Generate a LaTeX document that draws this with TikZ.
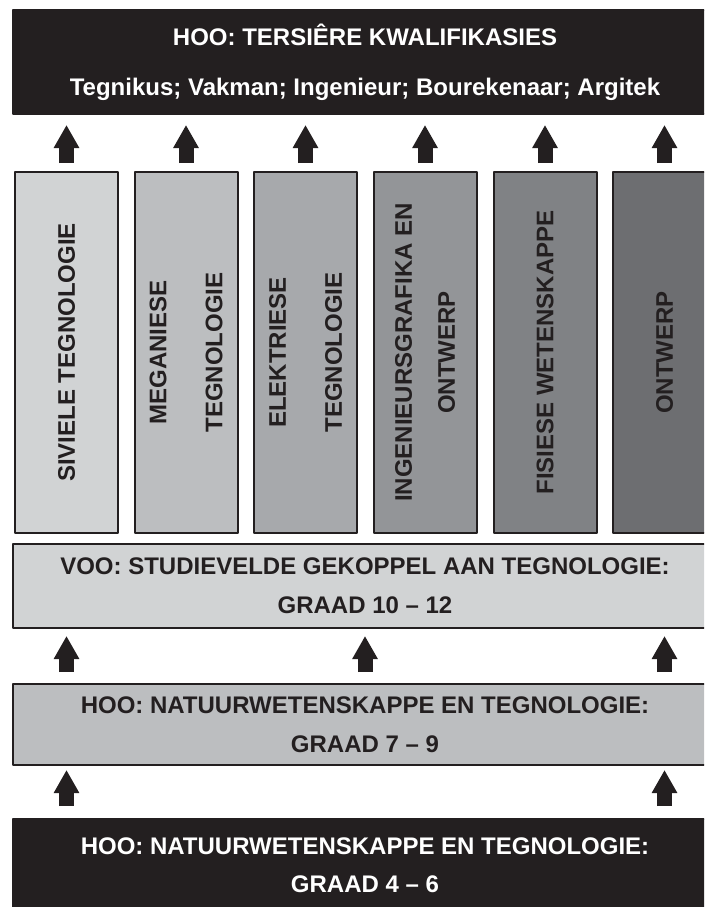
\documentclass[tikz,border=0pt]{standalone}
\usepackage{fontspec}
\setmainfont{Liberation Sans}
\usetikzlibrary{arrows.meta}
\definecolor{ink}{HTML}{231F20}
\definecolor{grA}{HTML}{D1D3D4}
\definecolor{grB}{HTML}{BCBEC0}
\definecolor{grC}{HTML}{A7A9AC}
\definecolor{grD}{HTML}{939598}
\definecolor{grE}{HTML}{808285}
\definecolor{grF}{HTML}{6D6E71}
\begin{document}
\begin{tikzpicture}[x=1pt,y=-1pt,line join=round,font=\bfseries\fontsize{24}{28}\selectfont,
	band/.style={draw=ink,line width=2pt,minimum width=704pt,inner sep=0pt,align=center,text=ink},
	darkband/.style={band,fill=ink,text=white},
	subject/.style={draw=ink,line width=2pt,rotate=90,minimum width=361pt,minimum height=103pt,inner sep=0pt,align=center,text=ink},
	up/.style={draw=ink,line width=15pt,-{Triangle[width=24pt,length=23pt]}}]
	\useasboundingbox (0,0) rectangle (704,907);
	\clip (0,0) rectangle (704,907);
	% bands
	\node[darkband,minimum height=104pt] (hoo) at (365,62) {HOO: TERSIÊRE KWALIFIKASIES\\[22pt]Tegnikus; Vakman; Ingenieur; Bourekenaar; Argitek};
	\node[band,fill=grA,minimum height=84pt] (voo) at (365,586) {VOO: STUDIEVELDE GEKOPPEL AAN TEGNOLOGIE:\\[11pt]GRAAD 10 -- 12};
	\node[band,fill=grB,minimum height=81pt] (senior) at (365,724.5) {HOO: NATUURWETENSKAPPE EN TEGNOLOGIE:\\[11pt]GRAAD 7 -- 9};
	\node[darkband,minimum height=92pt] (inter) at (365,865) {HOO: NATUURWETENSKAPPE EN TEGNOLOGIE:\\[10pt]GRAAD 4 -- 6};
	% subjects
	\node[subject,fill=grA] (c1) at (66.5,352.5) {SIVIELE TEGNOLOGIE};
	\node[subject,fill=grB] (c2) at (186,352.5) {MEGANIESE\\[28pt]TEGNOLOGIE};
	\node[subject,fill=grC] (c3) at (305.5,352.5) {ELEKTRIESE\\[28pt]TEGNOLOGIE};
	\node[subject,fill=grD] (c4) at (425,352.5) {INGENIEURSGRAFIKA EN\\[15pt]ONTWERP};
	\node[subject,fill=grE] (c5) at (545,352.5) {FISIESE WETENSKAPPE};
	\node[subject,fill=grF] (c6) at (664.5,352.5) {ONTWERP};
	% arrows
	\foreach \n in {c1,c2,c3,c4,c5,c6}
		\draw[up,shorten <=8pt,shorten >=10pt] (\n.east) -- (\n.east |- hoo.south);
	\foreach \n in {c1,voo,c6}
		\draw[up,shorten <=11pt,shorten >=7pt] (\n |- senior.north) -- (\n |- voo.south);
	\foreach \n in {c1,c6}
		\draw[up,shorten <=12pt,shorten >=4pt] (\n |- inter.north) -- (\n |- senior.south);
\end{tikzpicture}
\end{document}
